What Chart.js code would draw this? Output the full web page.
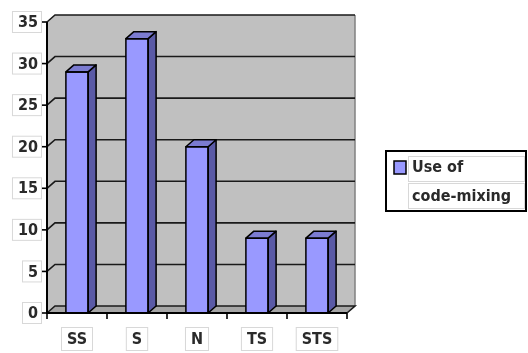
<!DOCTYPE html>
<html><head><meta charset="utf-8">
<script src="https://cdn.jsdelivr.net/npm/chart.js@4/dist/chart.umd.min.js"></script>
<style>html,body{margin:0;padding:0;background:#fff;}#wrap{width:528px;height:353px;position:relative;}</style>
</head><body><div id="wrap"><canvas id="c" width="528" height="353"></canvas></div>
<script>
const categories = ["SS", "S", "N", "TS", "STS"];
const seriesLabel = ["Use of", "code-mixing"];
const values = [29, 33, 20, 9, 9];
const yTicks = [0, 5, 10, 15, 20, 25, 30, 35];

const DX = 8, DY = -7;
const FONT = "bold 16px 'Liberation Sans Narrow', 'DejaVu Sans Condensed', sans-serif";

function box(ctx, x, y, w, h) {
  ctx.save();
  ctx.fillStyle = '#fff';
  ctx.fillRect(x, y, w, h);
  ctx.strokeStyle = '#d8d8d8';
  ctx.lineWidth = 1;
  ctx.strokeRect(x + 0.5, y + 0.5, w - 1, h - 1);
  ctx.restore();
}

const threeD = {
  id: 'threeD',
  beforeDatasetsDraw(chart) {
    const ctx = chart.ctx, a = chart.chartArea, ys = chart.scales.y;
    ctx.save();
    ctx.fillStyle = '#a6a6a6';
    ctx.beginPath();
    ctx.moveTo(a.left, a.bottom); ctx.lineTo(a.right, a.bottom);
    ctx.lineTo(a.right + DX, a.bottom + DY); ctx.lineTo(a.left + DX, a.bottom + DY);
    ctx.closePath(); ctx.fill();
    ctx.fillStyle = '#c0c0c0';
    ctx.beginPath();
    ctx.moveTo(a.left, a.bottom); ctx.lineTo(a.left, a.top);
    ctx.lineTo(a.left + DX, a.top + DY); ctx.lineTo(a.left + DX, a.bottom + DY);
    ctx.closePath(); ctx.fill();
    ctx.fillRect(a.left + DX, a.top + DY, a.right - a.left, a.bottom - a.top);
    ctx.strokeStyle = '#808080'; ctx.lineWidth = 1.5;
    ctx.beginPath(); ctx.moveTo(a.right + DX, a.top + DY); ctx.lineTo(a.right + DX, a.bottom + DY); ctx.stroke();
    ctx.strokeStyle = '#1a1a1a'; ctx.lineWidth = 1.6;
    yTicks.forEach(v => {
      const y = ys.getPixelForValue(v);
      ctx.beginPath();
      ctx.moveTo(a.left, y); ctx.lineTo(a.left + DX, y + DY); ctx.lineTo(a.right + DX, y + DY);
      if (v === 0) { ctx.lineTo(a.right, y); }
      ctx.stroke();
    });
    ctx.restore();
  },
  afterDatasetsDraw(chart) {
    const ctx = chart.ctx;
    const meta = chart.getDatasetMeta(0);
    ctx.save();
    ctx.lineJoin = 'round';
    ctx.strokeStyle = '#000'; ctx.lineWidth = 1.5;
    meta.data.forEach(bar => {
      const p = bar.getProps(['x', 'y', 'base', 'width'], true);
      const l = p.x - p.width / 2, r = p.x + p.width / 2, t = p.y, b = p.base;
      ctx.fillStyle = '#5a5aa6';
      ctx.beginPath();
      ctx.moveTo(r, t); ctx.lineTo(r + DX, t + DY); ctx.lineTo(r + DX, b + DY); ctx.lineTo(r, b);
      ctx.closePath(); ctx.fill(); ctx.stroke();
      ctx.fillStyle = '#7b7bd0';
      ctx.beginPath();
      ctx.moveTo(l, t); ctx.lineTo(l + DX, t + DY); ctx.lineTo(r + DX, t + DY); ctx.lineTo(r, t);
      ctx.closePath(); ctx.fill(); ctx.stroke();
      ctx.strokeRect(l, t, r - l, b - t);
    });
    ctx.restore();
  },
  afterDraw(chart) {
    const ctx = chart.ctx, a = chart.chartArea, ys = chart.scales.y, xs = chart.scales.x;
    ctx.save();
    ctx.strokeStyle = '#000'; ctx.lineWidth = 2;
    ctx.beginPath(); ctx.moveTo(a.left, a.top); ctx.lineTo(a.left, a.bottom); ctx.lineTo(a.right, a.bottom); ctx.stroke();
    ctx.lineWidth = 1.6;
    yTicks.forEach(v => {
      const y = ys.getPixelForValue(v);
      ctx.beginPath(); ctx.moveTo(a.left - 5, y); ctx.lineTo(a.left, y); ctx.stroke();
    });
    const step = (a.right - a.left) / categories.length;
    for (let i = 0; i <= categories.length; i++) {
      const x = a.left + i * step;
      ctx.beginPath(); ctx.moveTo(x, a.bottom); ctx.lineTo(x, a.bottom + 6); ctx.stroke();
    }
    ctx.font = FONT; ctx.textBaseline = 'middle';
    yTicks.forEach(v => {
      const y = ys.getPixelForValue(v);
      const s = String(v);
      const w = ctx.measureText(s).width;
      box(ctx, 38 - w - 6, y - 11, w + 10, 22);
      ctx.fillStyle = '#2a2a2a'; ctx.textAlign = 'right';
      ctx.fillText(s, 38, y + 1);
    });
    categories.forEach((c, i) => {
      const x = xs.getPixelForValue(i);
      const w = ctx.measureText(c).width;
      box(ctx, x - w / 2 - 6, 327, w + 12, 24);
      ctx.fillStyle = '#2a2a2a'; ctx.textAlign = 'center';
      ctx.fillText(c, x, 340);
    });
    ctx.fillStyle = '#fff';
    ctx.fillRect(385, 150, 142, 62);
    ctx.strokeStyle = '#000'; ctx.lineWidth = 2;
    ctx.strokeRect(386, 151, 140, 60);
    box(ctx, 408, 156, 117, 26);
    box(ctx, 408, 183, 117, 26);
    ctx.fillStyle = '#9999ff'; ctx.fillRect(394, 161, 12, 13);
    ctx.strokeStyle = '#000'; ctx.lineWidth = 1.5; ctx.strokeRect(394, 161, 12, 13);
    ctx.fillStyle = '#2a2a2a'; ctx.textAlign = 'left';
    ctx.fillText(seriesLabel[0], 412, 168);
    ctx.fillText(seriesLabel[1], 412, 197);
    ctx.restore();
  }
};

new Chart(document.getElementById('c'), {
  type: 'bar',
  data: {
    labels: categories,
    datasets: [{
      label: seriesLabel.join(' '),
      data: values,
      backgroundColor: '#9999ff',
      borderWidth: 0,
      barPercentage: 0.74,
      categoryPercentage: 0.5
    }]
  },
  options: {
    responsive: false,
    animation: false,
    devicePixelRatio: 1,
    layout: { padding: { top: 22, right: 181, left: 0, bottom: 0 } },
    plugins: { legend: { display: false }, tooltip: { enabled: false } },
    scales: {
      y: {
        min: 0, max: 35,
        ticks: { stepSize: 5, display: false },
        grid: { display: false },
        border: { display: false },
        afterFit(s) { s.width = 47; }
      },
      x: {
        ticks: { display: false },
        grid: { display: false },
        border: { display: false },
        afterFit(s) { s.height = 40; }
      }
    }
  },
  plugins: [threeD]
});
</script></body></html>
